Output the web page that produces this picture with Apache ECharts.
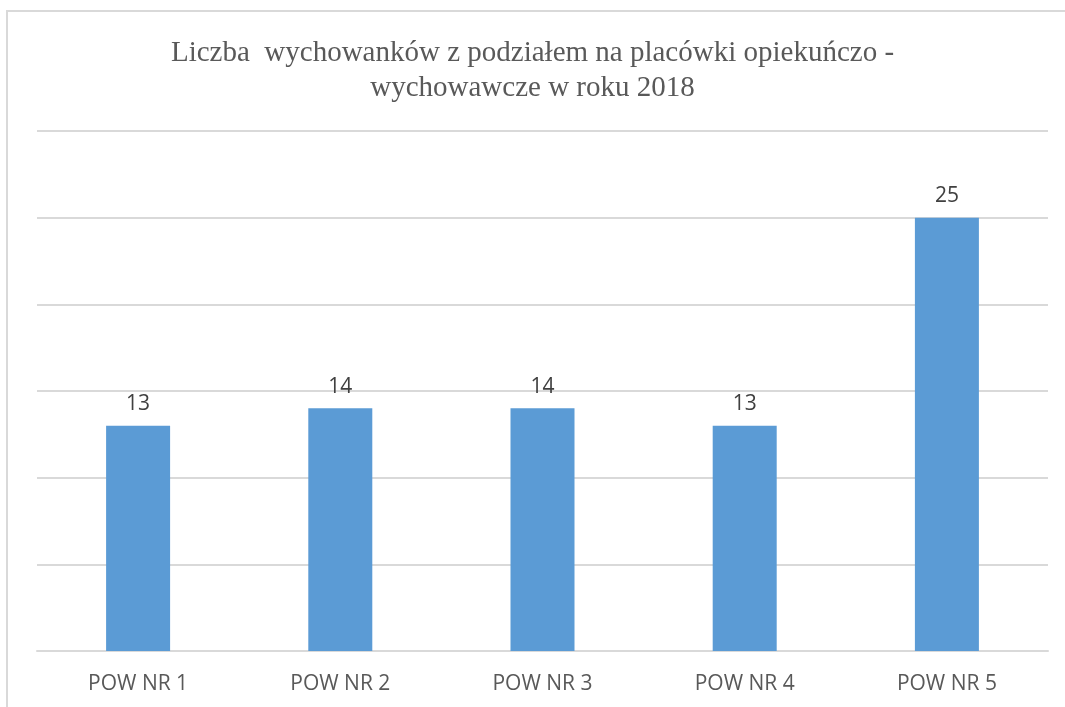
<!DOCTYPE html>
<html>
<head>
<meta charset="utf-8">
<script src="https://cdn.jsdelivr.net/npm/echarts@6/dist/echarts.min.js"></script>
<style>
  html, body { margin: 0; padding: 0; background: #fff; }
  #chart { width: 1065px; height: 707px; }
</style>
</head>
<body>
<div id="chart"></div>
<script>
  // dane z wykresu
  var categories = ['POW NR 1', 'POW NR 2', 'POW NR 3', 'POW NR 4', 'POW NR 5']
  var values = [13, 14, 14, 13, 25]
  var titleText = 'Liczba  wychowanków z podziałem na placówki opiekuńczo -\nwychowawcze w roku 2018'

  var myChart = echarts.init(document.getElementById('chart'))
  myChart.setOption({
    animation: false,
    graphic: [{
      type: 'rect',
      shape: { x: 7, y: 11, width: 1200, height: 800 },
      style: { fill: 'none', stroke: '#d9d9d9', lineWidth: 2 },
      silent: true
    }],
    title: {
      text: titleText,
      left: 'center',
      top: 31,
      textStyle: {
        fontFamily: 'Liberation Serif',
        fontWeight: 'normal',
        fontSize: 29,
        lineHeight: 35,
        color: '#595959'
      }
    },
    grid: {
      left: 37,
      right: 17,
      top: 131,
      bottom: 56,
      containLabel: false
    },
    xAxis: {
      type: 'category',
      data: categories,
      axisTick: { show: false },
      axisLine: { lineStyle: { color: '#d9d9d9', width: 2 } },
      axisLabel: {
        color: '#595959',
        fontFamily: 'Open Sans',
        fontSize: 21,
        margin: 23
      }
    },
    yAxis: {
      type: 'value',
      min: 0,
      max: 30,
      interval: 5,
      axisLabel: { show: false },
      axisLine: { show: false },
      axisTick: { show: false },
      splitLine: { lineStyle: { color: '#d9d9d9', width: 2 } }
    },
    series: [{
      type: 'bar',
      data: values,
      barWidth: 64,
      itemStyle: { color: '#5b9bd5' },
      label: {
        show: true,
        position: 'top',
        distance: 11,
        color: '#404040',
        fontFamily: 'Open Sans',
        fontSize: 21
      }
    }]
  })
</script>
</body>
</html>
